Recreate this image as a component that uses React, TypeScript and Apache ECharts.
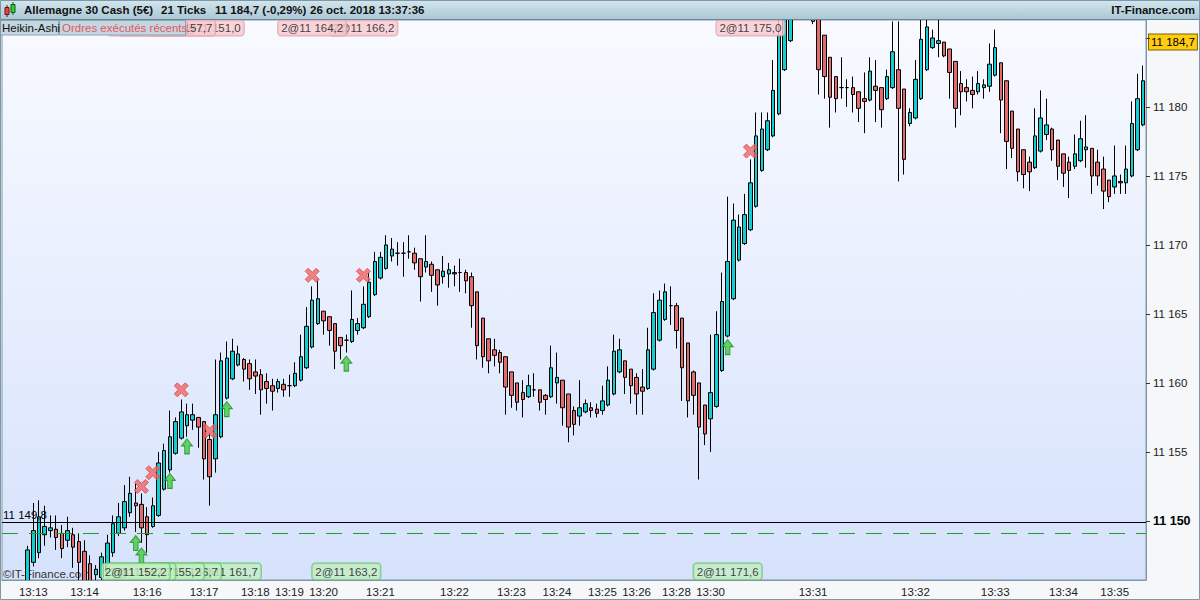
import React, { useEffect, useRef } from 'react';
import * as echarts from 'echarts';

const FONT = '"Liberation Sans", Arial, sans-serif';
const M = ['-', '-', '-', '-'];

// Heikin-Ashi candles [open, close, low, high], one per 21-tick bar
const haPartA = [
  M, M, M, M,
  [11144.8, 11147.9, 11144.3, 11148.2], [11147.0, 11149.3, 11146.7, 11151.3],
  [11147.7, 11150.3, 11147.3, 11151.5], [11149.0, 11149.6, 11148.2, 11151.1],
  [11149.3, 11149.5, 11148.8, 11150.4], [11149.4, 11148.8, 11147.9, 11150.4],
  [11149.1, 11148.0, 11147.3, 11149.7], [11148.6, 11149.3, 11148.1, 11150.3],
  [11149.0, 11148.1, 11146.6, 11149.5], [11148.5, 11147.0, 11145.7, 11149.1],
  [11147.8, 11145.3, 11144.6, 11148.6], [11146.9, 11145.0, 11144.3, 11147.5],
  [11146.1, 11146.5, 11145.7, 11146.8], [11145.9, 11147.4, 11145.3, 11147.7],
  [11146.3, 11148.4, 11145.8, 11149.0], [11147.7, 11149.8, 11147.4, 11150.4],
  [11149.1, 11150.3, 11148.9, 11151.3], [11149.5, 11151.4, 11149.3, 11152.6],
  [11150.6, 11152.0, 11150.3, 11153.2], [11151.3, 11151.1, 11149.2, 11152.7],
  [11151.2, 11149.5, 11148.4, 11152.0], [11150.3, 11149.0, 11147.7, 11151.0],
  [11149.6, 11151.1, 11149.5, 11151.7], [11150.4, 11154.2, 11150.3, 11155.0],
  [11152.3, 11155.1, 11152.2, 11155.6], [11153.7, 11156.1, 11153.5, 11158.0],
  [11154.9, 11157.2, 11154.8, 11157.5], [11156.0, 11157.9, 11155.9, 11158.8],
  [11156.9, 11157.7, 11156.1, 11158.5], [11157.3, 11157.7, 11156.6, 11158.5],
  [11157.5, 11156.8, 11155.3, 11157.5], [11157.2, 11154.5, 11153.0, 11157.2],
  [11155.9, 11153.2, 11151.1, 11156.4], [11154.5, 11157.7, 11153.5, 11161.7],
  [11156.1, 11161.6, 11156.0, 11162.2], [11158.9, 11161.8, 11158.8, 11163.0],
  [11160.3, 11162.3, 11160.2, 11163.2], [11161.3, 11162.1, 11161.2, 11162.7],
  [11161.7, 11161.0, 11160.1, 11161.8], [11161.4, 11160.3, 11159.5, 11161.7],
  [11160.8, 11160.5, 11159.2, 11161.7], [11160.6, 11159.5, 11157.7, 11161.0],
  [11160.1, 11159.6, 11158.5, 11160.7], [11159.8, 11159.4, 11158.0, 11160.3],
  [11159.6, 11160.1, 11159.3, 11160.3], [11159.9, 11159.5, 11159.0, 11160.3],
];
const haPartB = [
  [11159.8, 11159.8, 11159.0, 11160.6], [11159.8, 11160.7, 11159.7, 11161.5],
  [11160.2, 11161.9, 11160.1, 11163.5], [11161.1, 11164.1, 11161.0, 11165.5],
  [11162.6, 11166.0, 11162.5, 11167.0], [11164.3, 11166.1, 11164.2, 11167.5],
  [11165.2, 11164.5, 11163.5, 11165.2], [11164.8, 11163.8, 11162.7, 11164.8],
  [11164.3, 11162.3, 11161.0, 11164.3], [11163.3, 11162.7, 11161.7, 11163.3],
  [11163.1, 11163.1, 11162.2, 11163.5], [11163.0, 11164.6, 11162.9, 11166.7],
  [11163.8, 11164.3, 11163.5, 11164.7], [11164.0, 11165.7, 11163.9, 11167.0],
  [11164.8, 11167.3, 11164.7, 11168.0], [11166.4, 11168.8, 11166.3, 11169.5],
  [11167.6, 11169.1, 11167.5, 11169.5], [11168.3, 11170.0, 11168.2, 11170.7],
  [11169.2, 11169.7, 11168.8, 11170.5], [11169.4, 11169.4, 11168.5, 11170.2],
  [11169.4, 11169.4, 11167.7, 11170.2], [11169.5, 11169.5, 11169.0, 11170.7],
  [11169.4, 11168.7, 11168.2, 11169.8], [11169.0, 11167.7, 11165.9, 11169.0],
  [11168.4, 11168.8, 11168.0, 11170.7], [11168.6, 11167.8, 11166.6, 11168.8],
  [11168.2, 11167.1, 11165.6, 11168.2], [11167.7, 11168.1, 11167.2, 11169.2],
  [11167.9, 11168.2, 11166.9, 11168.7], [11168.0, 11167.9, 11167.0, 11168.5],
  [11168.0, 11168.0, 11166.6, 11169.0], [11168.0, 11167.4, 11166.5, 11168.2],
  [11167.7, 11165.6, 11164.0, 11168.0], [11166.6, 11162.7, 11161.7, 11166.6],
  [11164.7, 11161.9, 11161.1, 11164.7], [11163.2, 11161.6, 11160.7, 11163.2],
  [11162.4, 11162.0, 11161.2, 11163.2], [11162.2, 11161.5, 11160.7, 11162.4],
  [11161.9, 11159.7, 11157.7, 11161.9], [11160.8, 11159.1, 11158.2, 11160.8],
  [11160.0, 11158.6, 11158.0, 11160.0], [11159.3, 11158.8, 11157.5, 11160.2],
  [11159.0, 11159.8, 11158.9, 11160.6], [11159.5, 11159.5, 11159.0, 11160.7],
  [11159.5, 11158.6, 11158.0, 11159.5], [11159.1, 11158.8, 11157.7, 11159.2],
  [11159.0, 11161.1, 11158.9, 11162.7], [11160.0, 11160.4, 11158.5, 11162.2],
  [11160.2, 11158.2, 11156.9, 11160.2], [11159.2, 11156.8, 11155.7, 11159.2],
];
const haPartC = [
  [11158.0, 11157.0, 11156.2, 11158.3], [11157.6, 11158.2, 11156.9, 11160.2],
  [11157.9, 11158.5, 11157.8, 11158.8], [11158.2, 11158.0, 11157.5, 11158.6],
  [11158.1, 11157.8, 11157.5, 11158.5], [11158.0, 11158.7, 11157.7, 11159.8],
  [11158.4, 11160.2, 11158.3, 11161.2], [11159.2, 11162.3, 11159.1, 11163.5],
  [11160.8, 11162.4, 11160.7, 11163.2], [11161.6, 11160.4, 11159.2, 11161.6],
  [11161.0, 11159.8, 11158.5, 11161.0], [11160.4, 11159.2, 11157.7, 11160.7],
  [11159.7, 11159.4, 11157.7, 11161.0], [11159.6, 11162.4, 11159.5, 11164.0],
  [11161.0, 11165.1, 11160.9, 11166.5], [11163.1, 11166.0, 11163.0, 11166.7],
  [11164.6, 11166.6, 11164.5, 11167.2], [11165.6, 11165.6, 11164.2, 11167.0],
  [11165.6, 11163.8, 11162.5, 11165.8], [11164.7, 11161.1, 11158.7, 11164.7],
  [11162.9, 11158.7, 11157.5, 11162.9], [11160.8, 11159.1, 11157.7, 11160.9],
  [11160.0, 11156.8, 11153.0, 11160.0], [11158.4, 11156.3, 11155.5, 11158.4],
  [11157.4, 11159.3, 11155.0, 11163.5], [11158.3, 11163.5, 11158.2, 11165.2],
  [11160.9, 11165.9, 11160.8, 11168.0], [11163.4, 11168.8, 11163.3, 11173.5],
  [11166.1, 11171.8, 11166.0, 11173.0], [11168.9, 11171.3, 11168.8, 11172.2],
  [11170.1, 11172.2, 11170.0, 11173.7], [11171.1, 11174.5, 11171.0, 11176.2],
  [11172.8, 11177.9, 11172.7, 11179.6], [11175.4, 11178.4, 11175.3, 11179.6],
  [11176.9, 11179.0, 11176.8, 11179.6], [11177.9, 11181.2, 11177.8, 11183.4],
  [11179.5, 11185.2, 11179.4, 11187.0], [11182.7, 11187.4, 11182.6, 11188.5],
  [11184.8, 11189.2, 11184.7, 11190.7], [11187.6, 11190.4, 11187.0, 11191.5],
  [11190.0, 11188.4, 11187.3, 11190.2], [11189.2, 11187.6, 11186.9, 11189.4],
  [11188.5, 11186.2, 11186.0, 11188.6], [11187.2, 11182.7, 11180.9, 11187.2],
  [11185.2, 11182.2, 11180.6, 11185.2], [11183.6, 11180.7, 11178.5, 11183.6],
  [11182.2, 11180.6, 11179.6, 11182.2], [11181.4, 11181.4, 11180.6, 11183.6],
  [11181.4, 11181.4, 11180.0, 11182.0], [11181.4, 11180.9, 11179.6, 11182.2],
];
const haPartD = [
  [11181.1, 11179.9, 11178.9, 11181.1], [11180.6, 11180.4, 11178.1, 11182.5],
  [11180.5, 11182.6, 11180.4, 11183.6], [11181.5, 11181.2, 11178.9, 11183.4],
  [11181.4, 11179.8, 11178.5, 11181.4], [11180.6, 11182.2, 11180.5, 11182.7],
  [11181.4, 11184.0, 11181.3, 11186.2], [11182.7, 11179.9, 11174.6, 11186.2],
  [11181.3, 11176.2, 11175.1, 11181.3], [11178.8, 11179.6, 11178.6, 11179.9],
  [11179.2, 11182.0, 11179.1, 11183.4], [11180.6, 11184.9, 11180.5, 11186.8],
  [11182.7, 11185.8, 11182.6, 11186.8], [11184.3, 11185.0, 11184.2, 11185.6],
  [11184.6, 11184.8, 11183.6, 11186.6], [11184.7, 11183.7, 11183.6, 11184.7],
  [11184.2, 11182.5, 11180.6, 11184.2], [11183.3, 11179.9, 11178.5, 11183.3],
  [11181.7, 11181.1, 11179.4, 11182.6], [11181.4, 11181.1, 11180.4, 11182.0],
  [11181.2, 11180.9, 11179.9, 11182.2], [11181.1, 11181.7, 11180.9, 11182.6],
  [11181.4, 11181.6, 11180.6, 11182.0], [11181.5, 11183.1, 11181.1, 11184.6],
  [11182.3, 11184.3, 11182.2, 11185.6], [11183.2, 11180.5, 11178.1, 11183.2],
  [11181.9, 11177.5, 11175.5, 11181.9], [11179.7, 11177.0, 11176.3, 11179.7],
  [11178.4, 11175.3, 11174.6, 11178.4], [11176.9, 11175.1, 11174.1, 11176.9],
  [11176.0, 11175.3, 11173.9, 11176.4], [11175.6, 11177.9, 11175.5, 11179.9],
  [11176.8, 11179.2, 11176.7, 11181.2], [11178.0, 11178.7, 11177.6, 11180.6],
  [11178.4, 11176.9, 11176.1, 11178.5], [11177.6, 11175.7, 11174.7, 11177.6],
  [11176.6, 11175.2, 11174.2, 11176.6], [11176.0, 11175.4, 11173.4, 11176.4],
  [11175.7, 11176.6, 11175.5, 11178.0], [11176.1, 11177.7, 11176.0, 11179.0],
  [11176.9, 11177.1, 11175.6, 11179.4], [11177.0, 11175.0, 11173.7, 11177.0],
  [11176.0, 11175.0, 11174.3, 11176.9], [11175.5, 11173.9, 11172.6, 11176.4],
  [11174.7, 11173.5, 11173.1, 11174.7], [11174.2, 11175.0, 11173.7, 11177.2],
  [11174.6, 11174.5, 11173.7, 11175.1], [11174.5, 11175.5, 11173.7, 11177.2],
  [11175.0, 11178.8, 11174.9, 11180.4], [11176.9, 11180.6, 11176.8, 11182.4],
  [11178.7, 11181.9, 11178.6, 11183.0],
];

// time axis: bar index -> label
const tickIndex = [5, 14, 25, 35, 44, 50, 56, 66, 79, 89, 97, 105, 111, 118, 124, 142, 160, 174, 186, 195];
const tickLabels = ['13:13', '13:14', '13:16', '13:17', '13:18', '13:19', '13:20', '13:21', '13:22', '13:23',
  '13:24', '13:25', '13:26', '13:28', '13:30', '13:31', '13:32', '13:33', '13:34', '13:35'];

// executed orders
const sellIndex = [24, 26, 31, 36, 54, 63, 131];
const sellPrice = [11152.5, 11153.5, 11159.5, 11156.5, 11167.8, 11167.8, 11176.8];
const sellText = ['2@11 152,5', '2@11 153,5', '2@11 157,7', '2@11 151,0', '2@11 164,2', '2@11 166,2', '2@11 175,0'];
const buyIndex = [23, 24, 29, 32, 39, 60, 127];
const buyPrice = [11148.4, 11147.5, 11152.9, 11155.4, 11158.1, 11161.4, 11162.6];
const buyText = ['2@11 152,2', '2@11 152,7', '2@11 155,2', '2@11 156,7', '2@11 161,7', '2@11 163,2', '2@11 171,6'];

const lastPrice = 11184.7;
const refLine = 11149.89;
const refLineText = '11 149,8';
const entryLine = 11149.09;

const Y_MIN = 11145.72;
const Y_MAX = 11186.3;

const fmt = (v: number) => {
  const s = Math.round(v).toString();
  return s.slice(0, s.length - 3) + ' ' + s.slice(-3);
};

const CLEAR = 'rgba(0,0,0,0)';

export default function App() {
  const ref = useRef<HTMLDivElement>(null);
  useEffect(() => {
    const candles = [...haPartA, ...haPartB, ...haPartC, ...haPartD];
    const cats = candles.map((_, i) => String(i));
    const labelMap: Record<number, string> = {};
    tickIndex.forEach((t, k) => (labelMap[t] = tickLabels[k]));
    const isTick = (i: number) => labelMap[i] !== undefined;

    const chart = echarts.init(ref.current!, undefined, { renderer: 'svg' });
    const option: any = {
      animation: false,
      backgroundColor: '#F5F7F9',
      textStyle: { fontFamily: FONT },
      grid: {
        left: 2, top: 20, width: 1144, height: 560, show: true,
        backgroundColor: new echarts.graphic.LinearGradient(0, 0, 0, 1, [
          { offset: 0, color: '#F8FAFF' },
          { offset: 1, color: '#D6E2FC' },
        ]),
        borderColor: '#7F98A8', borderWidth: 1,
      },
      xAxis: {
        type: 'category', data: cats, boundaryGap: true, z: 20,
        axisLine: { lineStyle: { color: '#7F98A8' } },
        axisTick: { alignWithLabel: true, interval: (i: number) => isTick(i), length: 5, lineStyle: { color: '#7F98A8' } },
        axisLabel: {
          interval: (i: number) => isTick(i), color: '#222', fontSize: 11.5, fontFamily: FONT, margin: 6,
          formatter: (v: string) => labelMap[Number(v)] || '',
        },
        splitLine: { show: false },
      },
      yAxis: {
        type: 'value', position: 'right', min: Y_MIN, max: Y_MAX, minInterval: 5, maxInterval: 5, splitNumber: 8, z: 20,
        axisLine: { show: true, lineStyle: { color: '#7F98A8' } },
        axisTick: { show: true, length: 4, lineStyle: { color: '#333' } },
        axisLabel: {
          color: '#222', fontSize: 11.5, fontFamily: FONT, margin: 7, showMinLabel: false, showMaxLabel: false,
          formatter: (v: number) => {
            const r = Math.round(v * 10) / 10;
            if (Math.abs(r - Math.round(r / 5) * 5) > 0.01) return '';
            if (Math.round(r) === 11150) return '{b|' + fmt(r) + '}';
            if (Math.round(r) >= 11185) return '';
            return fmt(r);
          },
          rich: { b: { fontWeight: 'bold', fontSize: 12.5, color: '#000', fontFamily: FONT } },
        },
        splitLine: { show: false },
      },
      series: [
        {
          type: 'candlestick', name: 'Heikin-Ashi', data: candles, barWidth: 4, z: 2, clip: true,
          itemStyle: {
            color: '#13CDD0', color0: '#E36A6A', borderColor: '#000', borderColor0: '#000',
            borderColorDoji: '#000', borderWidth: 1,
          },
          markLine: {
            silent: true, symbol: ['none', 'none'], animation: false,
            data: [
              {
                yAxis: refLine, lineStyle: { color: '#000', width: 1, type: 'solid' },
                label: { show: true, position: 'insideStartTop', formatter: refLineText, color: '#000', fontSize: 11.5, fontFamily: FONT, distance: [1, 1] },
              },
              {
                yAxis: entryLine, lineStyle: { color: '#1F9F2A', width: 1, type: [16, 11] },
                label: { show: false },
              },
              {
                yAxis: lastPrice, lineStyle: { color: CLEAR, width: 0 },
                label: {
                  show: true, position: 'end', distance: 3, formatter: '11 184,7', color: '#000', fontSize: 11.5, fontFamily: FONT,
                  backgroundColor: '#FFCC11', borderColor: '#7A6500', borderWidth: 1, padding: [2, 2, 1, 2],
                },
              },
            ],
          },
        },
        {
          type: 'scatter', name: 'sell', z: 4, silent: true,
          symbol: 'path://M0,3 L3,0 L7,4 L11,0 L14,3 L10,7 L14,11 L11,14 L7,10 L3,14 L0,11 L4,7 Z',
          symbolSize: 14,
          itemStyle: { color: '#F26464', borderColor: '#D84A4A', borderWidth: 1 },
          data: sellIndex.map((x, k) => [x, sellPrice[k]]),
        },
        {
          type: 'scatter', name: 'buy', z: 4, silent: true,
          symbol: 'path://M6,0 L12,7 L8.5,7 L8.5,15 L3.5,15 L3.5,7 L0,7 Z',
          symbolSize: [11, 15],
          itemStyle: { color: '#3FCC3F', borderColor: '#1E8A1E', borderWidth: 1 },
          data: buyIndex.map((x, k) => [x, buyPrice[k]]),
        },
        {
          type: 'scatter', name: 'sellLabels', z: 6, silent: true, symbolSize: 1, itemStyle: { color: CLEAR },
          data: sellIndex.map((x, k) => ({ value: [x, Y_MAX], name: sellText[k] })).reverse(),
          label: {
            show: true, position: 'bottom', distance: 0, formatter: '{b}', color: '#111', fontSize: 11.5, fontFamily: FONT,
            lineHeight: 13, backgroundColor: '#F6CBD1', borderColor: '#E39AA5', borderWidth: 1, borderRadius: 3, padding: [1, 3, 1, 3],
          },
        },
        {
          type: 'scatter', name: 'buyLabels', z: 6, silent: true, symbolSize: 1, itemStyle: { color: CLEAR },
          data: buyIndex.map((x, k) => ({ value: [x, Y_MIN], name: buyText[k] })).reverse(),
          label: {
            show: true, position: 'top', distance: 0, formatter: '{b}', color: '#111', fontSize: 11.5, fontFamily: FONT,
            lineHeight: 13, backgroundColor: '#C4EEC4', borderColor: '#55BE55', borderWidth: 1, borderRadius: 3, padding: [2, 3, 1, 3],
          },
        },
      ],
      graphic: [
        { type: 'text', z: 1, x: 3, y: 574, style: { text: '©IT-Finance.com', fill: '#333', font: '11.5px ' + FONT, verticalAlign: 'middle' } },
        { type: 'rect', z: 10, shape: { x: 0, y: 580.5, width: 1200, height: 20 }, style: { fill: '#F5F7F9' } },
        {
          type: 'rect', z: 10, shape: { x: 0, y: 0, width: 1200, height: 20 },
          style: {
            fill: new echarts.graphic.LinearGradient(0, 0, 0, 1, [
              { offset: 0, color: '#D3E6EE' },
              { offset: 1, color: '#A9C7D4' },
            ]),
          },
        },
        { type: 'line', z: 11, shape: { x1: 0, y1: 19.5, x2: 1200, y2: 19.5 }, style: { stroke: '#6E8795', lineWidth: 1 } },
        { type: 'line', z: 11, shape: { x1: 7, y1: 5, x2: 7, y2: 17 }, style: { stroke: '#6B1010', lineWidth: 1 } },
        { type: 'rect', z: 12, shape: { x: 5, y: 7.5, width: 4, height: 7 }, style: { fill: '#E04848', stroke: '#6B1010', lineWidth: 1 } },
        { type: 'line', z: 11, shape: { x1: 13, y1: 2, x2: 13, y2: 15 }, style: { stroke: '#0E5E0E', lineWidth: 1 } },
        { type: 'rect', z: 12, shape: { x: 11, y: 4.5, width: 4, height: 8 }, style: { fill: '#33CC33', stroke: '#0E5E0E', lineWidth: 1 } },
        { type: 'text', z: 12, x: 24, y: 10, style: { text: 'Allemagne 30 Cash (5€)', fill: '#111', font: 'bold 11.5px ' + FONT, verticalAlign: 'middle' } },
        { type: 'text', z: 12, x: 161, y: 10, style: { text: '21 Ticks', fill: '#111', font: 'bold 11.5px ' + FONT, verticalAlign: 'middle' } },
        { type: 'text', z: 12, x: 215, y: 10, style: { text: '11 184,7 (-0,29%)', fill: '#111', font: 'bold 11.5px ' + FONT, verticalAlign: 'middle' } },
        { type: 'text', z: 12, x: 310, y: 10, style: { text: '26 oct. 2018 13:37:36', fill: '#111', font: 'bold 11.5px ' + FONT, verticalAlign: 'middle' } },
        { type: 'text', z: 12, x: 1195, y: 10, style: { text: 'IT-Finance.com', fill: '#111', font: 'bold 11.5px ' + FONT, align: 'right', verticalAlign: 'middle' } },
        { type: 'rect', zlevel: 1, z: 100, shape: { x: 0.5, y: 20.5, width: 58, height: 14.5 }, style: { fill: '#C4D6DF', stroke: '#8EA6B3', lineWidth: 1 } },
        { type: 'text', zlevel: 1, z: 101, x: 2, y: 28, style: { text: 'Heikin-Ashi', fill: '#111', font: '11.5px ' + FONT, verticalAlign: 'middle' } },
        { type: 'rect', zlevel: 1, z: 100, shape: { x: 59.5, y: 20.5, width: 126, height: 14.5 }, style: { fill: '#C4D6DF', stroke: '#8EA6B3', lineWidth: 1 } },
        { type: 'text', zlevel: 1, z: 101, x: 62, y: 28, style: { text: 'Ordres exécutés récents', fill: '#E2585F', font: '11.5px ' + FONT, verticalAlign: 'middle' } },
        { type: 'rect', zlevel: 1, z: 200, shape: { x: 0.5, y: 0.5, width: 1199, height: 599 }, style: { fill: 'none', stroke: '#7F98A8', lineWidth: 1 } },
      ],
    };
    chart.setOption(option);
    return () => chart.dispose();
  }, []);
  return <div ref={ref} style={{ position: 'absolute', left: 0, top: 0, width: 1200, height: 600 }} />;
}
